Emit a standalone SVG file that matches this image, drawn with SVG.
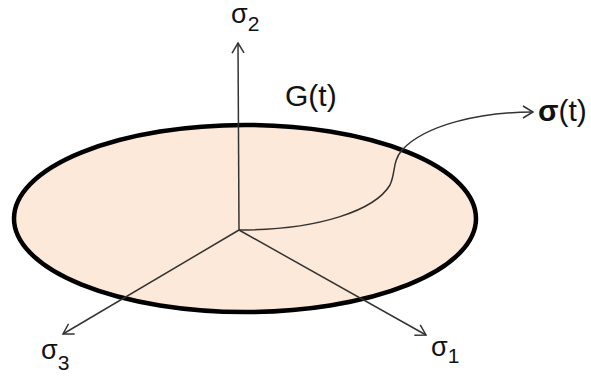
<svg xmlns="http://www.w3.org/2000/svg" width="591" height="378" viewBox="0 0 591 378">
<defs>
<style>
.ax{fill:none;stroke:#333;stroke-width:1.5}
.lbl{font-family:"Liberation Sans","Noto Sans",sans-serif;font-size:27px;fill:#111}
.big{font-size:30px}
.sub{font-size:21px}
</style>
<marker id="arr" markerWidth="14" markerHeight="14" refX="11" refY="7" orient="auto" markerUnits="userSpaceOnUse">
<path d="M1,1 L11,7 L1,13" fill="none" stroke="#333" stroke-width="1.5"/>
</marker>
</defs>
<rect width="591" height="378" fill="#fff"/>
<g id="disk">
<ellipse cx="245" cy="218.5" rx="231" ry="93.5" fill="#fde9d9" stroke="#000" stroke-width="4.5"/>
<text class="lbl big" x="285" y="106">G(t)</text>
</g>
<g id="connectors">
<line class="ax" x1="239" y1="230" x2="238" y2="43" marker-end="url(#arr)"/>
<line class="ax" x1="239" y1="230" x2="426" y2="335" marker-end="url(#arr)"/>
<line class="ax" x1="239" y1="230" x2="63" y2="334" marker-end="url(#arr)"/>
<path class="ax" d="M239,230 C320,230 375,210 390,185 C396,172 392,162 402,150 C425,125 480,112 533,112" marker-end="url(#arr)"/>
</g>
<g id="s2"><text class="lbl" x="231" y="23">σ<tspan class="sub" dy="8">2</tspan></text></g>
<g id="s1"><text class="lbl" x="431" y="356">σ<tspan class="sub" dy="7">1</tspan></text></g>
<g id="s3"><text class="lbl" x="41" y="359">σ<tspan class="sub" dy="11">3</tspan></text></g>
<g id="st"><text class="lbl big" x="538" y="121"><tspan font-weight="bold">σ</tspan>(t)</text></g>
</svg>
